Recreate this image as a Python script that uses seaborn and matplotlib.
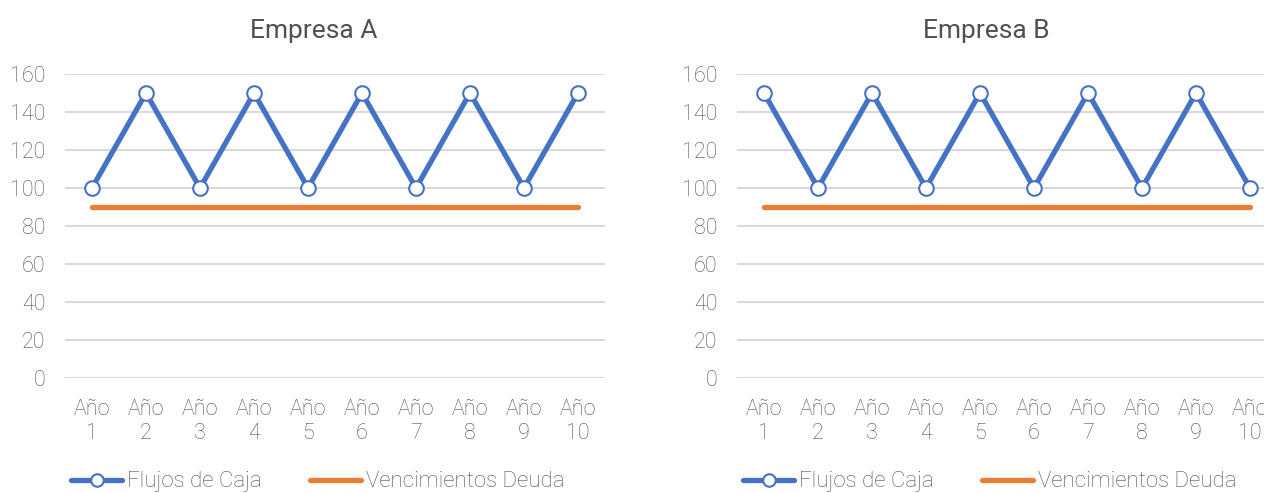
import matplotlib
matplotlib.use("Agg")
import matplotlib.pyplot as plt
import seaborn as sns
import pandas as pd
from matplotlib.lines import Line2D

# Data
years = [f"Año\n{i}" for i in range(1, 11)]
flujos_a = [100, 150, 100, 150, 100, 150, 100, 150, 100, 150]
flujos_b = [150, 100, 150, 100, 150, 100, 150, 100, 150, 100]
deuda = [90, 90, 90, 90, 90, 90, 90, 90, 90, 90]
titles = ["Empresa A", "Empresa B"]
y_ticks = [0, 20, 40, 60, 80, 100, 120, 140, 160]

BLUE = "#4472C4"
ORANGE = "#ED7D31"
GRID = "#D9D9D9"
TEXT = "#505050"

sns.set_theme(style="white")
plt.rcParams["font.family"] = ["Roboto", "DejaVu Sans"]
plt.rcParams["font.weight"] = "light"

W, H = 1264, 493
fig = plt.figure(figsize=(W / 100, H / 100), dpi=100)

def px_axes(left, top, right, bottom):
    return fig.add_axes([left / W, (H - bottom) / H, (right - left) / W, (bottom - top) / H])

axes = [px_axes(65, 74, 605, 378), px_axes(737, 74, 1277, 378)]

for ax, flujos, title in zip(axes, [flujos_a, flujos_b], titles):
    df = pd.DataFrame({"year": years, "flujos": flujos, "deuda": deuda})
    for y in y_ticks:
        ax.axhline(y, color=GRID, lw=1.5, zorder=0)
    sns.lineplot(data=df, x="year", y="deuda", ax=ax, color=ORANGE, lw=3.8,
                 sort=False, solid_capstyle="round", zorder=2)
    sns.lineplot(data=df, x="year", y="flujos", ax=ax, color=BLUE, lw=3.8,
                 sort=False, marker="o", markersize=10.5, markerfacecolor="white",
                 markeredgecolor=BLUE, markeredgewidth=1.5, zorder=3,
                 solid_joinstyle="miter")
    ax.set_xlim(-0.5, 9.5)
    ax.set_ylim(0, 160)
    ax.set_yticks(y_ticks)
    ax.set_xticks(range(len(years)))
    ax.set_xticklabels(years, linespacing=1.2)
    ax.set_xlabel("")
    ax.set_ylabel("")
    for s in ax.spines.values():
        s.set_visible(False)
    ax.tick_params(axis="y", length=0, pad=14, labelsize=15.5, labelcolor=TEXT)
    ax.tick_params(axis="x", length=0, pad=15, labelsize=15.5, labelcolor=TEXT)
    ax.set_title(title, fontsize=19, color=TEXT, pad=26, x=0.461)

    handles = [
        Line2D([0], [0], color=BLUE, lw=3.8, marker="o", markersize=9,
               markerfacecolor="white", markeredgecolor=BLUE, markeredgewidth=1.5,
               solid_capstyle="round"),
        Line2D([0], [0], color=ORANGE, lw=3.8, solid_capstyle="round"),
    ]
    ax.legend(handles, ["Flujos de Caja", "Vencimientos Deuda"], loc="center",
              bbox_to_anchor=(0.468, -0.342), ncol=2, frameon=False,
              fontsize=16, handlelength=2.3, handletextpad=0.2,
              columnspacing=2.2, labelcolor=TEXT)

fig.savefig("out.png", dpi=100)
